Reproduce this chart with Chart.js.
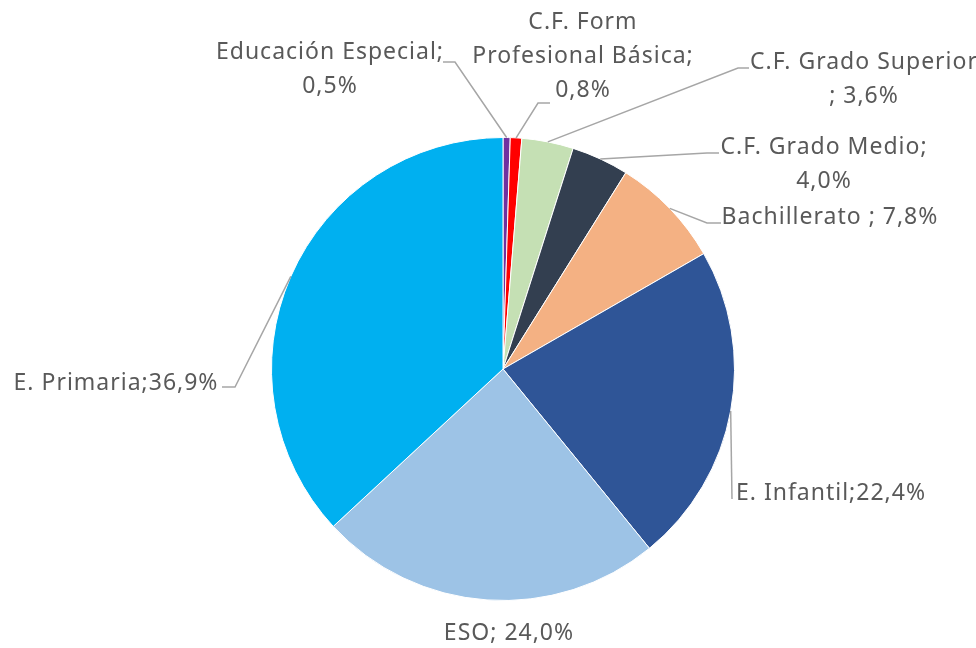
<!DOCTYPE html>
<html>
<head>
<meta charset="utf-8">
<script src="https://cdn.jsdelivr.net/npm/chart.js@4/dist/chart.umd.min.js"></script>
<style>
  html, body { margin: 0; padding: 0; background: #fff; }
  #chart { display: block; }
</style>
</head>
<body>
<canvas id="chart" width="976" height="648"></canvas>
<script>
const categories = [
  "Educación Especial",
  "C.F. Form Profesional Básica",
  "C.F. Grado Superior",
  "C.F. Grado Medio",
  "Bachillerato",
  "E. Infantil",
  "ESO",
  "E. Primaria"
];
const values = [0.5, 0.8, 3.6, 4.0, 7.8, 22.4, 24.0, 36.9];
const colors = ["#7030A0", "#FF0000", "#C5E0B4", "#333F50", "#F4B183", "#2F5597", "#9DC3E6", "#00B0F0"];
// label text as it breaks in the original, {v} is the value
const labelLines = [
  ["Educación Especial;", "{v}"],
  ["C.F. Form", "Profesional Básica;", "{v}"],
  ["C.F. Grado Superior", "; {v}"],
  ["C.F. Grado Medio;", "{v}"],
  ["Bachillerato ; {v}"],
  ["E. Infantil;{v}"],
  ["ESO; {v}"],
  ["E. Primaria;{v}"]
];

function fmt(v) {
  return v.toFixed(1).replace(".", ",") + "%";
}

// where each label sits and where its leader line bends
const labelLayout = [
  { x: 330, y: 52, elbow: [455, 62], end: [443, 62] },
  { x: 583, y: 22, elbow: [538, 103], end: [550, 103] },
  { x: 864, y: 62, elbow: [738, 68], end: [749, 68] },
  { x: 824, y: 147, elbow: [707, 153], end: [719, 153] },
  { x: 830, y: 217, elbow: [707, 223], end: [721, 223] },
  { x: 831, y: 493, elbow: [732, 499], end: [732, 499] },
  { x: 509, y: 633, elbow: null },
  { x: 116, y: 383, elbow: [235, 387], end: [222, 387] }
];

const pieLabels = {
  id: "pieLabels",
  afterDatasetsDraw(chart) {
    const ctx = chart.ctx;
    const meta = chart.getDatasetMeta(0);
    ctx.save();
    meta.data.forEach((arc, i) => {
      const lay = labelLayout[i];
      const p = arc.getProps(["x", "y", "startAngle", "endAngle", "outerRadius"], true);
      const mid = (p.startAngle + p.endAngle) / 2;
      const ax = p.x + Math.cos(mid) * p.outerRadius;
      const ay = p.y + Math.sin(mid) * p.outerRadius;
      if (lay.elbow) {
        ctx.strokeStyle = "#A6A6A6";
        ctx.lineWidth = 1.5;
        ctx.beginPath();
        ctx.moveTo(ax, ay);
        ctx.lineTo(lay.elbow[0], lay.elbow[1]);
        ctx.lineTo(lay.end[0], lay.end[1]);
        ctx.stroke();
      }
      ctx.fillStyle = "#595959";
      ctx.font = "23px 'Noto Sans'";
      ctx.letterSpacing = "1px";
      ctx.textAlign = "center";
      ctx.textBaseline = "middle";
      labelLines[i].forEach((line, k) => {
        ctx.fillText(line.replace("{v}", fmt(values[i])), lay.x, lay.y + k * 34);
      });
    });
    ctx.restore();
  }
};

new Chart(document.getElementById("chart"), {
  type: "pie",
  data: {
    labels: categories,
    datasets: [{
      data: values,
      backgroundColor: colors,
      borderColor: "#FFFFFF",
      borderWidth: 1
    }]
  },
  options: {
    responsive: false,
    animation: false,
    layout: { padding: { left: 271, right: 241, top: 137, bottom: 47 } },
    plugins: {
      legend: { display: false },
      tooltip: { enabled: false }
    }
  },
  plugins: [pieLabels]
});
</script>
</body>
</html>
